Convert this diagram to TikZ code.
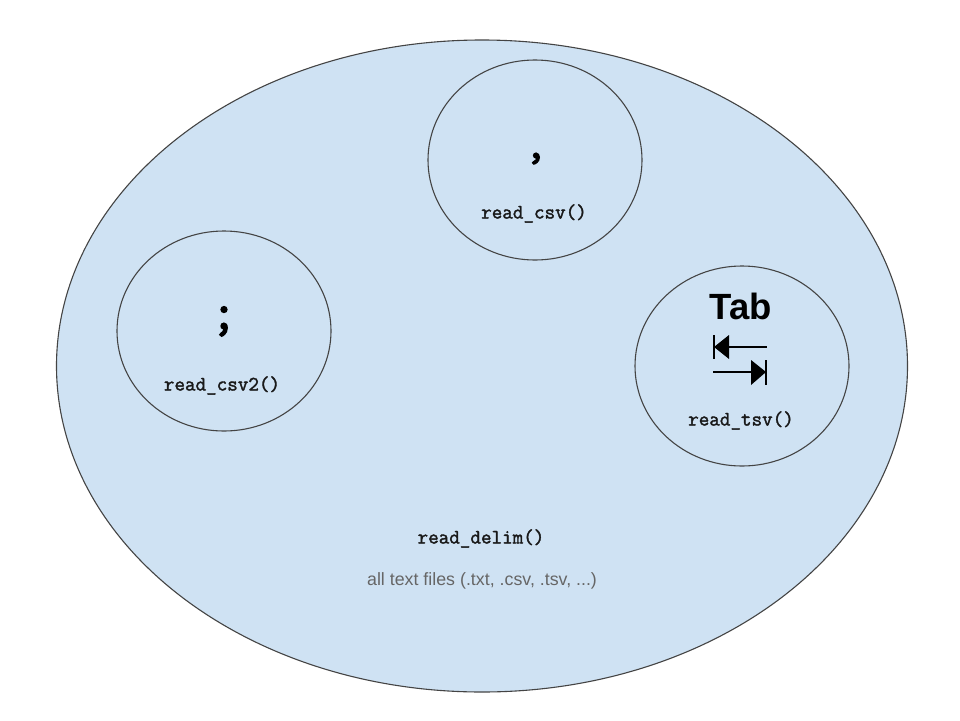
\documentclass[tikz,border=0pt]{standalone}
\usepackage{fontspec}
\setmainfont{Liberation Sans}
\newfontfamily\fnfont[FakeBold=1.8]{Latin Modern Mono}
\newfontfamily\delimfont[FakeBold=2.6]{Latin Modern Mono}
\usetikzlibrary{shapes.geometric}
\definecolor{setfill}{HTML}{CFE2F3}
\definecolor{setline}{HTML}{444444}
\definecolor{greytext}{HTML}{666666}
\tikzset{
  x=1pt,y=-1pt,
  setshape/.style={ellipse,draw=setline,fill=setfill,line width=1.1pt,inner sep=0pt,outer sep=0pt},
  inner/.style={setshape,minimum width=214pt,minimum height=200pt},
  fn/.style={font=\fontsize{20.5}{22}\fnfont,text=black!90,inner sep=0pt,anchor=base},
  delim/.style={inner sep=0pt,anchor=base},
  tabline/.style={line width=2pt,black},
  tabbar/.style={line width=2pt,black},
  tabhead/.style={fill=black,draw=none}
}
\begin{document}
\begin{tikzpicture}
\useasboundingbox (0,0) rectangle (960,720);
\fill[white] (0,0) rectangle (960,720);
\node[setshape,minimum width=851pt,minimum height=652pt] (outer) at (482,366) {};
\node[inner] (top) at (535,160) {};
\node[inner] (left) at (224,331) {};
\node[inner] (right) at (742,366) {};
\node[fn] (csvlabel) at (534,218.5) {read\_csv()};
\node[fn] (csvtwolabel) at (222,390.5) {read\_csv2()};
\node[fn] (tsvlabel) at (741,425.5) {read\_tsv()};
\node[fn] (delimlabel) at (481,543.5) {read\_delim()};
\node[inner sep=0pt,anchor=base,text=greytext,font=\fontsize{17.8}{20}\selectfont] (files) at (482,585) {all text files (.txt, .csv, .tsv, ...)};
\node[delim,font=\fontsize{44}{48}\delimfont] (comma) at (536,158) {,};
\node[delim,font=\fontsize{52}{56}\delimfont] (semi) at (224,329) {;};
\node[inner sep=0pt,anchor=base,font=\fontsize{36.5}{40}\selectfont\bfseries] (tab) at (741,319) {Tab};
% tab key glyph
\draw[tabbar] (714,335) -- (714,359);
\fill[tabhead] (714,347) -- (729,335) -- (729,359) -- cycle;
\draw[tabline] (722,347) -- (767,347);
\draw[tabbar] (766,360) -- (766,385);
\fill[tabhead] (766,372) -- (751,360) -- (751,385) -- cycle;
\draw[tabline] (713,372) -- (758,372);
\end{tikzpicture}
\end{document}
